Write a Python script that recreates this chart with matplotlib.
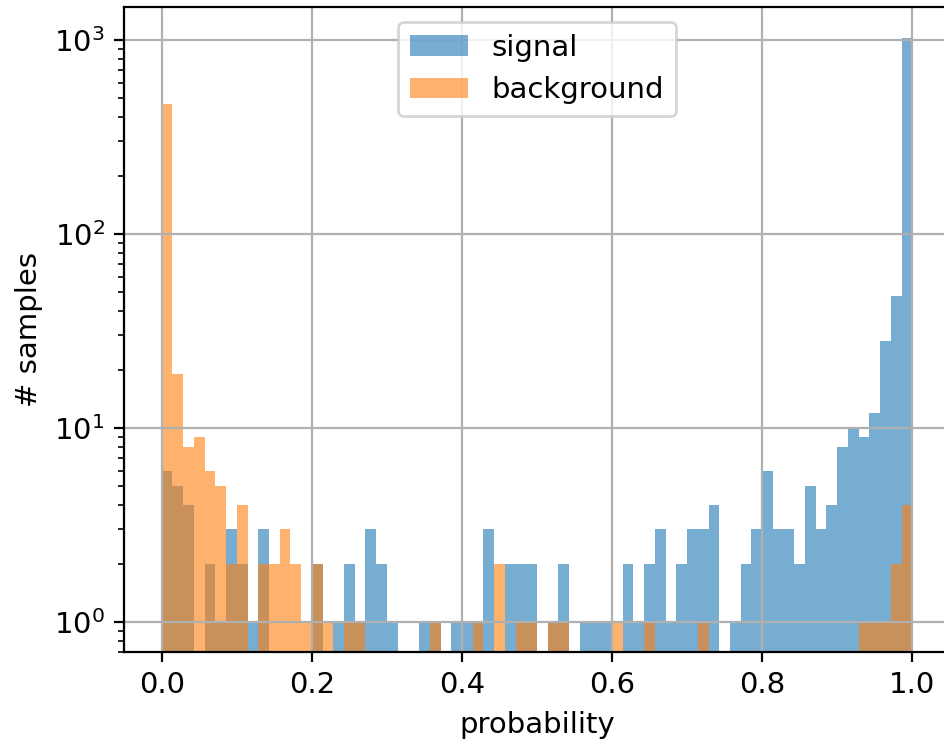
import numpy as np
import matplotlib
matplotlib.use("Agg")
import matplotlib.pyplot as plt

# 70 equal-width bins on [0, 1]
bin_edges = np.linspace(0.0, 1.0, 71)

signal_counts = [6, 5, 4, 0, 2, 1, 3, 2, 1, 3,
                 0, 0, 0, 0, 2, 0, 1, 2, 1, 3,
                 2, 1, 0, 0, 1, 1, 0, 1, 1, 1,
                 3, 0, 2, 2, 2, 0, 1, 2, 0, 1,
                 1, 1, 0, 2, 1, 2, 3, 1, 2, 3,
                 3, 4, 0, 1, 2, 3, 6, 3, 3, 2,
                 5, 3, 4, 8, 10, 9, 12, 28, 48, 1020]

background_counts = [468, 19, 8, 9, 6, 5, 2, 4, 0, 2,
                     2, 3, 2, 1, 2, 1, 0, 1, 1, 0,
                     0, 0, 0, 0, 0, 1, 0, 0, 0, 1,
                     0, 2, 0, 1, 1, 0, 1, 1, 0, 0,
                     0, 0, 1, 0, 0, 1, 0, 0, 0, 0,
                     1, 0, 0, 0, 0, 0, 0, 0, 0, 0,
                     0, 0, 0, 0, 0, 1, 1, 1, 2, 4]

x_ticks = [0.0, 0.2, 0.4, 0.6, 0.8, 1.0]

centers = 0.5 * (bin_edges[:-1] + bin_edges[1:])

plt.rcParams["font.size"] = 10.5

W, H = 945, 743
dpi = 200
fig = plt.figure(figsize=(W / dpi, H / dpi), dpi=dpi)
ax = fig.add_axes([124.2 / W, (H - 652) / H, 825.6 / W, (652 - 7.3) / H])

ax.hist(centers, bins=bin_edges, weights=signal_counts, alpha=0.6,
        color="C0", label="signal", log=True)
ax.hist(centers, bins=bin_edges, weights=background_counts, alpha=0.6,
        color="C1", label="background", log=True)

ax.set_xlim(-0.05, 1.05)
ax.set_ylim(0.7, 1474)
ax.set_xticks(x_ticks)
ax.grid(True)
ax.set_xlabel("probability")
ax.set_ylabel("# samples")
ax.legend(loc="upper center")

fig.savefig("out.png", dpi=dpi)
